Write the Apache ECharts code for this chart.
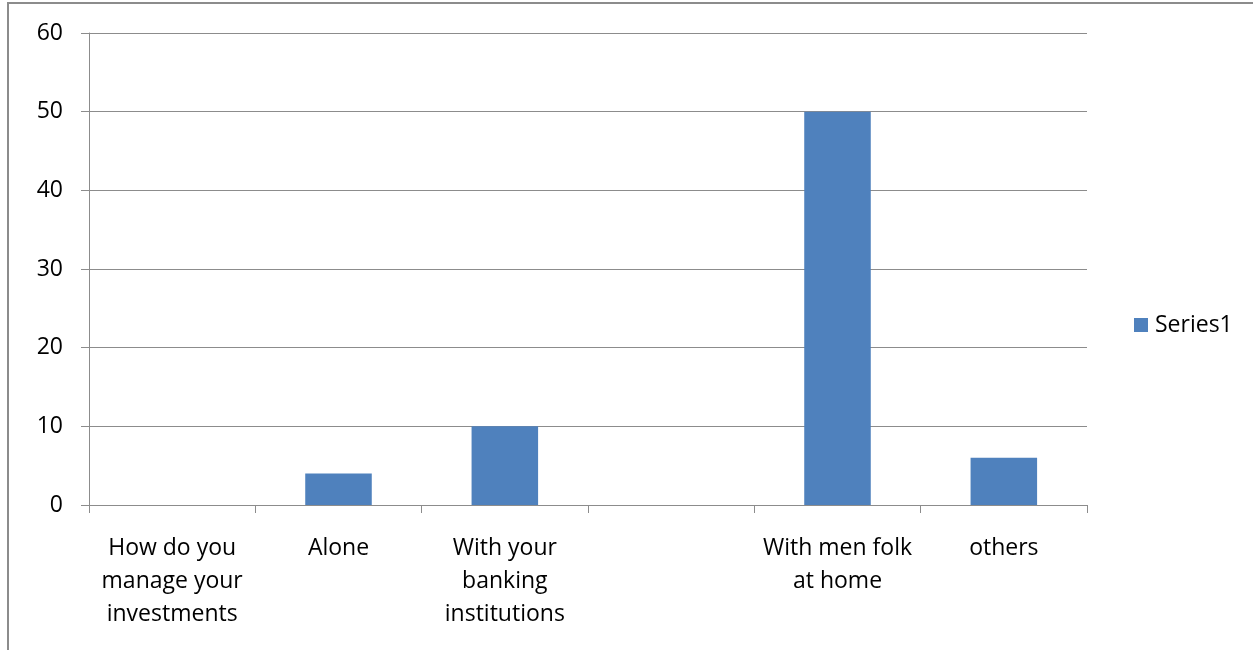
<!DOCTYPE html>
<html>
<head>
<meta charset="utf-8">
<script src="https://cdn.jsdelivr.net/npm/echarts@6/dist/echarts.min.js"></script>
<style>
  html, body { margin: 0; padding: 0; background: #fff; }
  #frame { position: absolute; left: 7px; top: 2px; width: 1300px; height: 700px; border: 2px solid #8c8c8c; box-sizing: border-box; }
  #chart { position: absolute; left: 0; top: 0; width: 1253px; height: 650px; }
</style>
</head>
<body>
<div id="frame"></div>
<div id="chart"></div>
<script>
// Survey answers: how investments are managed
const categories = ['How do you\nmanage your\ninvestments', 'Alone', 'With your\nbanking\ninstitutions', '', 'With men folk\nat home', 'others'];
const series1 = [null, 4, 10, null, 50, 6];
const yTicks = { min: 0, max: 60, interval: 10 };

const FONT = 'Open Sans';
const FS = 23;
const chart = echarts.init(document.getElementById('chart'), null, { renderer: 'canvas' });
chart.setOption({
  animation: false,
  backgroundColor: 'transparent',
  textStyle: { fontFamily: FONT },
  grid: { left: 89, right: 166, top: 33, bottom: 145, containLabel: false },
  legend: {
    left: 1129, top: 'middle', orient: 'vertical',
    itemWidth: 14, itemHeight: 14, itemGap: 6,
    icon: 'rect',
    textStyle: { fontFamily: FONT, fontSize: FS, color: '#000', padding: [0, 0, 0, 2] },
    data: ['Series1']
  },
  xAxis: {
    type: 'category',
    data: categories,
    boundaryGap: true,
    axisLine: { lineStyle: { color: '#8c8c8c', width: 1 } },
    axisTick: { show: true, length: 8, lineStyle: { color: '#8c8c8c' }, alignWithLabel: false },
    axisLabel: { interval: 0, color: '#000', fontFamily: FONT, fontSize: FS, lineHeight: 33, margin: 27 },
    splitLine: { show: false }
  },
  yAxis: {
    type: 'value',
    min: yTicks.min, max: yTicks.max, interval: yTicks.interval,
    axisLine: { show: true, lineStyle: { color: '#8c8c8c', width: 1 } },
    axisTick: { show: true, length: 8, lineStyle: { color: '#8c8c8c' } },
    axisLabel: { color: '#000', fontFamily: FONT, fontSize: FS, margin: 26 },
    splitLine: { show: true, lineStyle: { color: '#8c8c8c', width: 1 } }
  },
  series: [{
    name: 'Series1',
    type: 'bar',
    data: series1,
    barWidth: '40%',
    itemStyle: { color: '#4f81bd' }
  }]
});
</script>
</body>
</html>
